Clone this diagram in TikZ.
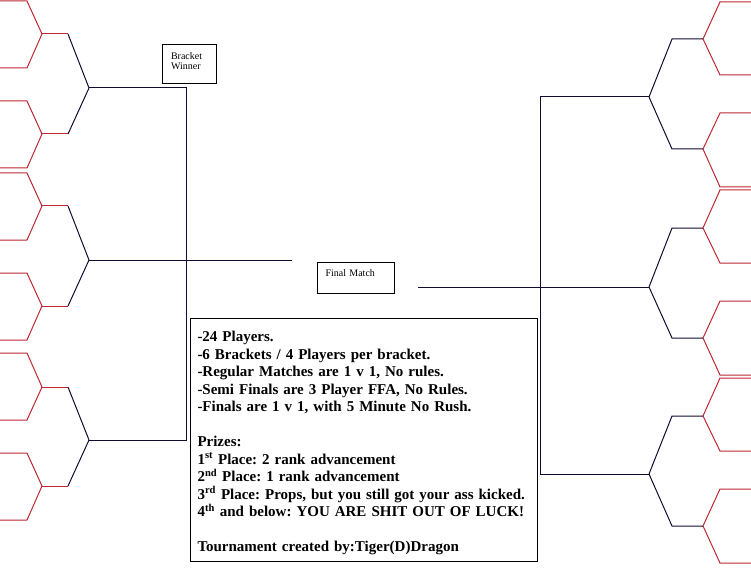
\documentclass[tikz,border=0pt]{standalone}
\usepackage{fontspec}
\setmainfont{Liberation Serif}
\frenchspacing
\usetikzlibrary{positioning}
\definecolor{bracketred}{RGB}{190,40,50}
\definecolor{bracketnavy}{RGB}{20,10,50}
\tikzset{redline/.style={draw=bracketred, line width=1pt},
navyline/.style={draw=bracketnavy, line width=1pt},
box/.style={draw, line width=1pt, inner ysep=0pt, align=left, anchor=north west},
small/.style={font=\fontsize{10}{10}\selectfont}}

\begin{document}
\begin{tikzpicture}[x=1pt, y=-1pt]
\useasboundingbox (0,0) rectangle (751,569);

% Main junctions
\coordinate (L1) at (89,88);
\coordinate (L2) at (89,260);
\coordinate (L3) at (89,440);
\coordinate (R1) at (649,97);
\coordinate (R2) at (649,287);
\coordinate (R3) at (649,474);

% Left brackets
\foreach \yt/\yb/\ym/\m in {1/68/34/L1, 101/168/134/L1, 173/240/206/L2, 273/340/306/L2, 353/420/387/L3, 453/520/486/L3} {
  \draw[redline] (0,\yt) -- (27,\yt) -- (42,\ym) -- (27,\yb) -- (0,\yb);
  \draw[redline] (42,\ym) -- (68,\ym);
  \draw[navyline] (68,\ym) -- (\m);
}

% Right brackets
\foreach \yt/\yb/\ym/\m in {2/75/39/R1, 113/187/149/R1, 190/263/228/R2, 301/375/338/R2, 378/451/416/R3, 489/563/526/R3} {
  \draw[redline] (751,\yt) -- (720,\yt) -- (703,\ym) -- (720,\yb) -- (751,\yb);
  \draw[navyline] (703,\ym) -- (672,\ym) -- (\m);
}

% Winner lines
\coordinate (lt) at (186,88);
\coordinate (lb) at (186,440);
\coordinate (lfinal) at (292,260);
\coordinate (rt) at (540,97);
\coordinate (rb) at (540,474);
\coordinate (rfinal) at (418,287);
\draw[navyline] (L1) -- (lt) -- (lb) -- (L3);
\draw[navyline] (L2) -- (lfinal);
\draw[navyline] (R1) -- (rt) -- (rb) -- (R3);
\draw[navyline] (R2) -- (rfinal);

% Boxes
\node[box, small, text width=37pt, inner xsep=8.5pt, text height=15pt, text depth=24pt] (winner) at (162,44) {Bracket\\Winner};
\node[box, small, text width=61pt, inner xsep=8pt, text height=14pt, text depth=17pt] (final) at (317,262) {Final Match};
\node[box, text width=333pt, inner xsep=7pt, text height=23pt, text depth=220pt, font=\bfseries\fontsize{15}{17.5}\selectfont] (rules) at (190,318) {%
-24 Players.\\
-6 Brackets / 4 Players per bracket.\\
-Regular Matches are 1 v 1, No rules.\\
-Semi Finals are 3 Player FFA, No Rules.\\
-Finals are 1 v 1, with 5 Minute No Rush.\\[17.5pt]
Prizes:\\
1\textsuperscript{st} Place: 2 rank advancement\\
2\textsuperscript{nd} Place: 1 rank advancement\\
3\textsuperscript{rd} Place: Props, but you still got your ass kicked.\\
4\textsuperscript{th} and below: YOU ARE SHIT OUT OF LUCK!\\[17.5pt]
Tournament created by:Tiger(D)Dragon};
\end{tikzpicture}
\end{document}
